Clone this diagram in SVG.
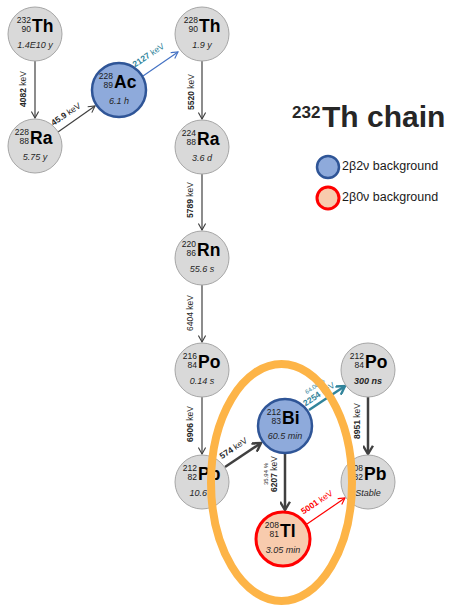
<svg xmlns="http://www.w3.org/2000/svg" width="450" height="606" viewBox="0 0 450 606">
<style>
.nd{fill:#d9d9d9;stroke:#a6a6a6;stroke-width:1}
.bl{fill:#8eaadb;stroke:#2f5597;stroke-width:2.5}
.rd{fill:#f8cbad;stroke:#ff0000;stroke-width:3}
text{font-family:"Liberation Sans",Arial,sans-serif;fill:#262626}
.sym{font-size:17.5px;font-weight:bold;fill:#000}
.num{font-size:8.5px;text-anchor:end;fill:#1a1a1a}
.hl{font-size:9px;font-style:italic;text-anchor:middle}
.lb{font-size:8.5px;text-anchor:middle}
.sm{font-size:6px;text-anchor:middle}
.b{font-weight:bold}
.ln{fill:none;stroke:#404040;stroke-width:1.2;marker-end:url(#ah)}
.lt{fill:none;stroke:#404040;stroke-width:2.5;marker-end:url(#aht)}
.lg{font-size:12.5px;fill:#1a1a1a}
</style>
<defs>
<marker id="ah" viewBox="0 0 10 10" refX="9" refY="5" markerWidth="8" markerHeight="8" markerUnits="userSpaceOnUse" orient="auto"><path d="M1,0.5 L9,5 L1,9.5" fill="none" stroke="#404040" stroke-width="1.4"/></marker>
<marker id="aht" viewBox="0 0 10 10" refX="8.5" refY="5" markerWidth="11" markerHeight="11" markerUnits="userSpaceOnUse" orient="auto"><path d="M1,0.5 L8.5,5 L1,9.5" fill="none" stroke="#404040" stroke-width="2.2"/></marker>
<marker id="ahb" viewBox="0 0 10 10" refX="9" refY="5" markerWidth="8" markerHeight="8" markerUnits="userSpaceOnUse" orient="auto"><path d="M1,0.5 L9,5 L1,9.5" fill="none" stroke="#4472c4" stroke-width="1.4"/></marker>
<marker id="ahteal" viewBox="0 0 10 10" refX="8.5" refY="5" markerWidth="11" markerHeight="11" markerUnits="userSpaceOnUse" orient="auto"><path d="M1,0.5 L8.5,5 L1,9.5" fill="none" stroke="#31849b" stroke-width="2.2"/></marker>
<marker id="ahr" viewBox="0 0 10 10" refX="9" refY="5" markerWidth="8" markerHeight="8" markerUnits="userSpaceOnUse" orient="auto"><path d="M1,0.5 L9,5 L1,9.5" fill="none" stroke="#ff0000" stroke-width="1.4"/></marker>
</defs>

<g id="title">
<text x="292" y="118" font-size="17" font-weight="bold" fill="#000">232</text>
<text x="322" y="127" font-size="30" font-weight="bold" fill="#000">Th chain</text>
</g>
<g id="legend">
<circle cx="328" cy="167" r="11" class="bl"/>
<text x="342" y="170" class="lg">2β2ν background</text>
<circle cx="328" cy="198" r="11" class="rd"/>
<text x="342" y="201" class="lg">2β0ν background</text>
</g>

<g id="connectors">
<path class="ln" d="M35,61 L35,118"/>
<path class="ln" d="M58,132 L95,106"/>
<path d="M143,76 L178,52" fill="none" stroke="#4472c4" stroke-width="1.2" marker-end="url(#ahb)"/>
<path class="ln" d="M202,61 L202,119"/>
<path class="ln" d="M202,174 L202,230"/>
<path class="ln" d="M202,285 L202,342"/>
<path class="ln" d="M202,397 L202,454"/>
<path class="lt" d="M225,467 L261,443"/>
<path d="M309,410 L345,386" fill="none" stroke="#31849b" stroke-width="2.5" marker-end="url(#ahteal)"/>
<path class="lt" d="M285,453 L285,510"/>
<path d="M307,524 L345,498" fill="none" stroke="#ff0000" stroke-width="1.2" marker-end="url(#ahr)"/>
<path class="lt" d="M368,397 L368,454"/>

<text class="lb" transform="translate(25.5,89) rotate(-90)"><tspan class="b">4082</tspan> keV</text>
<text class="lb" transform="translate(67.5,116.5) rotate(-34)"><tspan class="b">45.9</tspan> keV</text>
<text class="lb" transform="translate(150,57.5) rotate(-34)" style="fill:#31849b"><tspan class="b">2127</tspan> keV</text>
<text class="lb" transform="translate(194,92) rotate(-90)"><tspan class="b">5520</tspan> keV</text>
<text class="lb" transform="translate(193,200) rotate(-90)"><tspan class="b">5789</tspan> keV</text>
<text class="lb" transform="translate(193,313) rotate(-90)">6404 keV</text>
<text class="lb" transform="translate(193,424) rotate(-90)"><tspan class="b">6906</tspan> keV</text>
<text class="lb" transform="translate(235,450.5) rotate(-34)"><tspan class="b">574</tspan> keV</text>
<text class="sm" transform="translate(316,388) rotate(-34)" style="fill:#31849b">64.06 %</text>
<text class="lb" transform="translate(320.5,396.5) rotate(-34)" style="fill:#31849b"><tspan class="b">2254</tspan> keV</text>
<text class="sm" transform="translate(268,474) rotate(-90)">35.94 %</text>
<text class="lb" transform="translate(276.5,474) rotate(-90)"><tspan class="b">6207</tspan> keV</text>
<text class="lb" transform="translate(318.5,504.5) rotate(-34)" style="fill:#ff0000"><tspan class="b">5001</tspan> keV</text>
<text class="lb" transform="translate(360,421) rotate(-90)"><tspan class="b">8951</tspan> keV</text>
</g>

<g id="th232">
<circle cx="35" cy="34" r="27" class="nd"/>
<text class="num" x="31" y="22.5">232</text><text class="num" x="31" y="31.5">90</text>
<text class="sym" x="32" y="32">Th</text>
<text class="hl" x="35" y="48">1.4E10 y</text>
</g>
<g id="ra228">
<circle cx="35" cy="146" r="27" class="nd"/>
<text class="num" x="29" y="134.5">228</text><text class="num" x="29" y="143.5">88</text>
<text class="sym" x="30" y="144">Ra</text>
<text class="hl" x="35" y="160">5.75 y</text>
</g>
<g id="ac228">
<circle cx="119" cy="90" r="27" class="bl"/>
<text class="num" x="113" y="78.5">228</text><text class="num" x="113" y="87.5">89</text>
<text class="sym" x="114" y="88">Ac</text>
<text class="hl" x="119" y="104">6.1 h</text>
</g>
<g id="th228">
<circle cx="202" cy="34" r="27" class="nd"/>
<text class="num" x="198" y="22.5">228</text><text class="num" x="198" y="31.5">90</text>
<text class="sym" x="199" y="32">Th</text>
<text class="hl" x="202" y="48">1.9 y</text>
</g>
<g id="ra224">
<circle cx="202" cy="147" r="27" class="nd"/>
<text class="num" x="196" y="135.5">224</text><text class="num" x="196" y="144.5">88</text>
<text class="sym" x="197" y="145">Ra</text>
<text class="hl" x="202" y="161">3.6 d</text>
</g>
<g id="rn220">
<circle cx="202" cy="258" r="27" class="nd"/>
<text class="num" x="196" y="246.5">220</text><text class="num" x="196" y="255.5">86</text>
<text class="sym" x="197" y="256">Rn</text>
<text class="hl" x="202" y="272">55.6 s</text>
</g>
<g id="po216">
<circle cx="202" cy="370" r="27" class="nd"/>
<text class="num" x="197" y="358.5">216</text><text class="num" x="197" y="367.5">84</text>
<text class="sym" x="198" y="368">Po</text>
<text class="hl" x="202" y="384">0.14 s</text>
</g>
<g id="pb212">
<circle cx="202" cy="482" r="27" class="nd"/>
<text class="num" x="197" y="470.5">212</text><text class="num" x="197" y="479.5">82</text>
<text class="sym" x="198" y="480">Pb</text>
<text class="hl" x="202" y="496">10.6 h</text>
</g>
<g id="bi212">
<circle cx="285" cy="426" r="27" class="bl"/>
<text class="num" x="281" y="414.5">212</text><text class="num" x="281" y="423.5">83</text>
<text class="sym" x="282" y="424">Bi</text>
<text class="hl" x="285" y="439">60.5 min</text>
</g>
<g id="po212">
<circle cx="368" cy="370" r="27" class="nd"/>
<text class="num" x="364" y="358.5">212</text><text class="num" x="364" y="367.5">84</text>
<text class="sym" x="365" y="368">Po</text>
<text class="hl b" x="368" y="384">300 ns</text>
</g>
<g id="pb208">
<circle cx="368" cy="482" r="27" class="nd"/>
<text class="num" x="363" y="470.5">208</text><text class="num" x="363" y="479.5">82</text>
<text class="sym" x="364" y="480">Pb</text>
<text class="hl" x="368" y="496">Stable</text>
</g>
<g id="tl208">
<circle cx="283" cy="539" r="27" class="rd"/>
<text class="num" x="279" y="527.5">208</text><text class="num" x="279" y="536.5">81</text>
<text class="sym" x="280" y="537">Tl</text>
<text class="hl" x="283" y="553">3.05 min</text>
</g>

<g id="highlight">
<ellipse cx="281.5" cy="482.5" rx="70.5" ry="118.5" fill="none" stroke="#fdb447" stroke-width="8"/>
</g>
</svg>
